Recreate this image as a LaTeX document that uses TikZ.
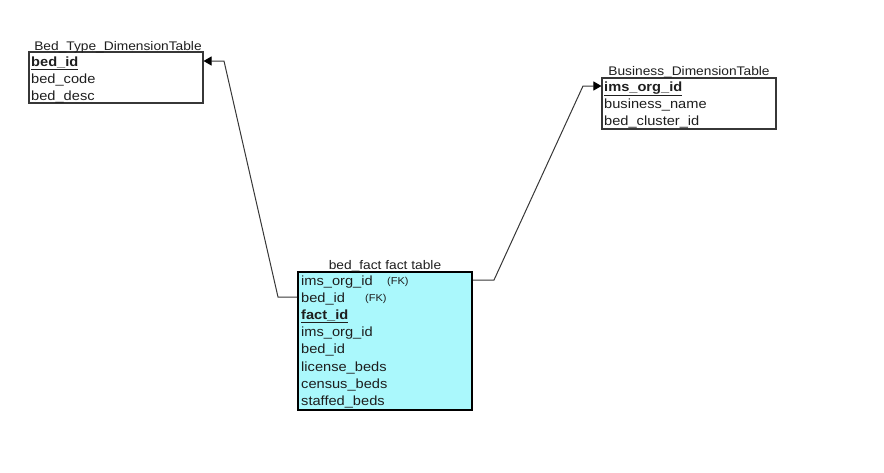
\documentclass[tikz,border=0pt]{standalone}
\usepackage{fontspec}
\setmainfont{Liberation Sans}[FakeStretch=1.1]
\usetikzlibrary{arrows.meta}

\definecolor{factfill}{RGB}{170,248,252}
\definecolor{linegray}{RGB}{55,55,55}
\definecolor{textgray}{RGB}{30,30,30}

\tikzset{
  dimbox/.style={draw=linegray, line width=1.1pt, minimum width=174pt, inner sep=0pt},
  factbox/.style={draw=black, fill=factfill, line width=2pt, minimum width=174pt, inner sep=0pt},
  ttl/.style={anchor=base, text=textgray, font=\fontsize{12.5}{14}\selectfont, inner sep=0pt},
  fld/.style={anchor=base west, text=textgray, font=\fontsize{13.3}{15}\selectfont, inner sep=0pt},
  keyfld/.style={fld, font=\fontsize{13.3}{15}\selectfont\bfseries},
  fk/.style={anchor=base west, text=textgray, font=\fontsize{10}{11}\selectfont, inner sep=0pt},
  conn/.style={draw=linegray, line width=1pt, -{Triangle[length=8pt,width=9pt,color=black]}}
}

\begin{document}
\begin{tikzpicture}[x=1pt,y=-1pt]
\useasboundingbox (0,0) rectangle (884,472);

% Bed type dimension
\node[dimbox, minimum height=51pt] (bedtype) at (116,77.5) {};
\node[ttl] (bedtypettl) at (118,50) {Bed\_Type\_DimensionTable};
\node[keyfld] (bedid) at (31,66) {\underline{bed\_id}};
\node[fld] (bedcode) at (31,83) {bed\_code};
\node[fld] (beddesc) at (31,100) {bed\_desc};

% Business dimension
\node[dimbox, minimum height=51pt] (business) at (689,103.5) {};
\node[ttl] (businessttl) at (689,75) {Business\_DimensionTable};
\node[keyfld] (imsid) at (604,91) {\underline{ims\_org\_id}};
\node[fld] (bname) at (604,108) {business\_name};
\node[fld] (bcluster) at (604,125) {bed\_cluster\_id};

% fact table
\node[factbox, minimum height=138pt] (fact) at (385,341) {};
\node[ttl] (factttl) at (385,269) {bed\_fact fact table};
\node[fld] (f1) at (301,285) {ims\_org\_id};
\node[fk] (fk1) at (387,284) {(FK)};
\node[fld] (f2) at (301,302) {bed\_id};
\node[fk] (fk2) at (365,301) {(FK)};
\node[keyfld] (f3) at (301,319) {\underline{fact\_id}};
\foreach \y/\name/\txt in {336/f4/ims\_org\_id, 353.5/f5/bed\_id, 371/f6/license\_beds,
    388/f7/census\_beds, 405/f8/staffed\_beds} {
  \node[fld] (\name) at (301,\y) {\txt};
}

% relations
\coordinate (lbend) at (278,297);
\coordinate (ltop) at (224,61);
\draw[conn] (fact.west |- lbend) -- (lbend) -- (ltop) -- (bedtype.east |- ltop);
\coordinate (rbend) at (494,280);
\coordinate (rtop) at (583,86);
\draw[conn] (fact.east |- rbend) -- (rbend) -- (rtop) -- (business.west |- rtop);
\end{tikzpicture}
\end{document}
